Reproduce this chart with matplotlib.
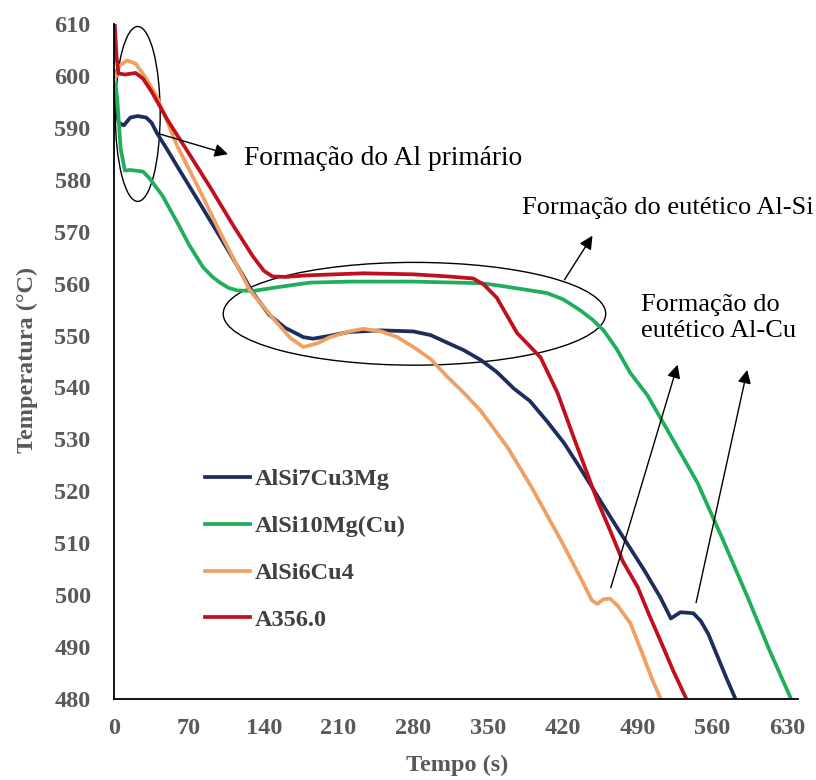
import matplotlib
matplotlib.use("Agg")
import matplotlib.pyplot as plt
from matplotlib.patches import Ellipse

# cooling curves, time (s) and temperature (°C)
t_blue = [0, 4, 9, 15, 22, 30, 35, 40, 50, 59, 80, 100, 115, 130, 145, 160, 177, 186, 200,
          220, 250, 280, 296, 312, 327, 343, 358, 374, 389, 405, 421, 436, 460, 474, 496,
          511, 521, 530, 542, 549, 556, 565, 573, 581, 592]
T_blue = [598, 591, 590.5, 592, 592.3, 592, 591, 589, 585.7, 582.6, 575.5, 568.7, 563.5, 558.2, 554,
          551.5, 549.7, 549.4, 549.9, 550.7, 551, 550.8, 550.1, 548.6, 547.2, 545.3, 543, 539.8, 537.4,
          533.5, 529.3, 524.5, 516.5, 511.9, 504.8, 499.6, 495.5, 496.7, 496.5, 495, 492.5, 488, 484,
          480.2, 475]

t_green = [0, 3, 6, 10, 15, 27, 33, 37, 45, 59, 70, 83, 92, 99, 107, 115, 130, 152, 183, 220,
           280, 343, 358, 380, 405, 420, 436, 448, 458, 470, 483, 499, 520, 546, 570, 593, 613,
           633, 645]
T_green = [601, 595, 586, 581.8, 581.9, 581.6, 580.3, 579.2, 577, 571.8, 567.5, 563.2, 561.3, 560.2,
           559.2, 558.7, 558.6, 559.3, 560.2, 560.4, 560.4, 560.1, 559.7, 559, 558.2, 557, 554.9, 553,
           551, 547.5, 542.8, 538.5, 531, 521.6, 510.5, 499.5, 489.5, 480.2, 474]

t_orange = [0, 5, 12, 20, 30, 40, 59, 80, 100, 115, 127, 150, 165, 177, 190, 202, 220, 233, 250,
            265, 280, 296, 312, 327, 343, 368, 390, 418, 436, 447, 452, 458, 464, 471, 483, 493,
            503, 511, 520]
T_orange = [599, 602, 603, 602.4, 599.5, 596, 586.5, 578, 569.5, 563.5, 558.7, 553, 549.5, 547.8,
            548.5, 549.7, 550.8, 551.3, 550.8, 549.7, 547.8, 545.5, 542, 539, 535.5, 528.5, 521, 510.6,
            503.5, 499, 498.3, 499.2, 499.3, 498, 494.6, 489.4, 484, 480.2, 476]

t_red = [0, 2, 4, 10, 20, 27, 35, 50, 68, 90, 112, 130, 140, 148, 160, 180, 233, 280, 312, 336,
         346, 358, 377, 399, 415, 430, 452, 464, 476, 490, 500, 511, 523, 535, 545]
T_red = [612, 604, 600.5, 600.3, 600.6, 599.5, 597, 591.5, 585.7, 578.5, 571, 565.2, 562.5, 561.4,
         561.3, 561.6, 562, 561.8, 561.4, 561, 559.8, 557.3, 550.5, 545.8, 538.9, 530.4, 518.3, 512.5,
         506.5, 501.5, 496.5, 491.3, 485.5, 480.2, 476]

series = ["AlSi7Cu3Mg", "AlSi10Mg(Cu)", "AlSi6Cu4", "A356.0"]
colors = ["#1c2d5e", "#1fae5a", "#f0a062", "#c0101e"]

x_ticks = [0, 70, 140, 210, 280, 350, 420, 490, 560, 630]
y_ticks = [480, 490, 500, 510, 520, 530, 540, 550, 560, 570, 580, 590, 600, 610]

plt.rcParams['font.family'] = ['Liberation Serif', 'DejaVu Serif']

fig = plt.figure(figsize=(8.16, 7.8), dpi=100)
ax = fig.add_axes([0.14, 0.104, 0.838, 0.865])

data = [(t_blue, T_blue), (t_green, T_green), (t_orange, T_orange), (t_red, T_red)]
for (t, T), name, c in zip(data, series, colors):
    ax.plot(t, T, color=c, lw=2.7, label=name, solid_joinstyle='round')

ax.set_xlim(0, 640)
ax.set_ylim(480, 610)
ax.set_xticks(x_ticks)
ax.set_yticks(y_ticks)
ax.tick_params(axis='y', length=0, pad=17, labelsize=17.5, labelcolor='#595959')
ax.tick_params(axis='x', length=0, pad=14, labelsize=17.5, labelcolor='#595959')
for lab in ax.get_xticklabels() + ax.get_yticklabels():
    lab.set_fontweight('bold')
ax.spines['top'].set_visible(False)
ax.spines['right'].set_visible(False)
for s in ['left', 'bottom']:
    ax.spines[s].set_linewidth(1.3)

ax.set_xlabel('Tempo (s)', fontsize=17.5, fontweight='bold', color='#595959')
ax.set_ylabel('Temperatura (°C)', fontsize=17.5, fontweight='bold', color='#595959')
ax.xaxis.set_label_coords(0.501, -0.083)
ax.yaxis.set_label_coords(-0.111, 0.502)

leg = ax.legend(loc='upper left', bbox_to_anchor=(0.118, 0.356), frameon=False,
                borderaxespad=0, handlelength=1.85, handletextpad=0.2, labelspacing=1.02,
                prop={'weight': 'bold', 'size': 17.5})
for txt in leg.get_texts():
    txt.set_color('#404040')

arrow = dict(arrowstyle='-|>', color='black', lw=1.0, mutation_scale=20)

# primary Al region
ax.add_patch(Ellipse((22, 592.7), 42, 33.7, fill=False, ec='black', lw=1.0))
ax.annotate('', xy=(109, 584.8), xytext=(40, 589), arrowprops=arrow)
ax.text(121, 584.2, 'Formação do Al primário', fontsize=19.8, va='center', ha='left')

# Al-Si eutectic region
ax.add_patch(Ellipse((281, 554.2), 358, 19.8, fill=False, ec='black', lw=1.0))
ax.annotate('', xy=(449, 569.7), xytext=(420, 560.3), arrowprops=arrow)
ax.text(382, 574.6, 'Formação do eutético Al-Si', fontsize=19, va='center', ha='left')

# Al-Cu eutectic
ax.text(493, 553.4, 'Formação do\neutético Al-Cu', fontsize=19, va='center', ha='left',
        linespacing=1.2)
ax.annotate('', xy=(528, 544.9), xytext=(464, 500.9), arrowprops=arrow)
ax.annotate('', xy=(593, 543.9), xytext=(544, 498), arrowprops=arrow)

fig.savefig('out.png', dpi=100)
